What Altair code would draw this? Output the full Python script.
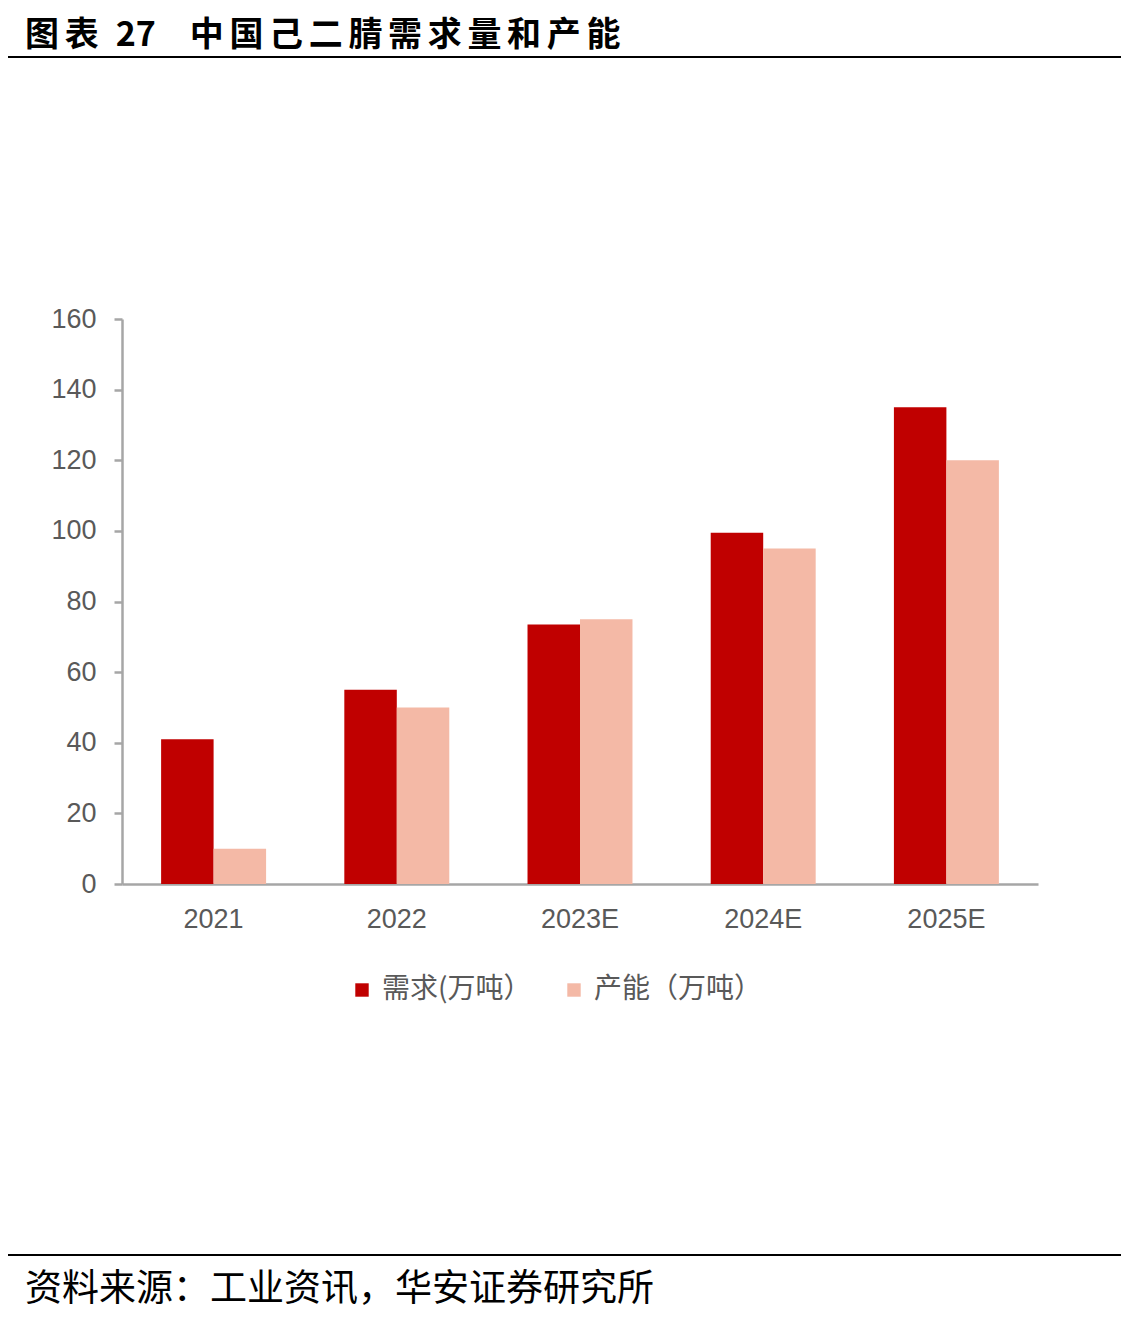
import altair as alt
import pandas as pd

years = ["2021", "2022", "2023E", "2024E", "2025E"]
demand = [41, 55, 73.5, 99.5, 135]
capacity = [10, 50, 75, 95, 120]
series_names = ["需求(万吨）", "产能（万吨）"]
colors = ["#C00000", "#F4B9A6"]
title_text = "图表\u200227\u2002\u2002中国己二腈需求量和产能"
source_text = "资料来源：工业资讯，华安证券研究所"

rows = []
for i, y in enumerate(years):
    rows.append({"year": y, "series": series_names[0], "value": demand[i]})
    rows.append({"year": y, "series": series_names[1], "value": capacity[i]})
df = pd.DataFrame(rows)

W, H = 916, 565
PL, PT = 114, 311
PR = 1113 - PL - W
PB = 1307 - PT - H
FONT = "Liberation Sans"
CJK = "Noto Sans CJK SC"
SP = "\u2006"


def spaced(s):
    out = ""
    for i, ch in enumerate(s):
        out += ch
        nxt = s[i + 1] if i + 1 < len(s) else ""
        if ord(ch) > 0x2E80 and nxt and ord(nxt) > 0x2E80:
            out += SP
    return out


bars = alt.Chart(df).mark_bar().encode(
    x=alt.X("year:N", sort=years, title=None,
            scale=alt.Scale(paddingInner=0.427, paddingOuter=0.2135),
            axis=alt.Axis(labelAngle=0, labelFont=FONT, labelFontSize=27, labelColor="#595959",
                          labelPadding=22, ticks=False, domainColor="#A6A6A6", domainWidth=2.5)),
    xOffset=alt.XOffset("series:N", sort=series_names),
    y=alt.Y("value:Q", title=None,
            scale=alt.Scale(domain=[0, 160]),
            axis=alt.Axis(values=list(range(0, 161, 20)), grid=False, labelFont=FONT, labelFontSize=27,
                          labelColor="#595959", labelPadding=18, tickSize=8, tickColor="#A6A6A6",
                          tickWidth=2.5, domainColor="#A6A6A6", domainWidth=2.5)),
    color=alt.Color("series:N", sort=series_names,
                    scale=alt.Scale(domain=series_names, range=colors),
                    legend=alt.Legend(title=None, orient="none", direction="horizontal",
                                      legendX=226, legendY=657, symbolType="square",
                                      symbolSize=180, symbolStrokeWidth=0, labelFont=CJK,
                                      labelFontSize=28, labelColor="#595959", columnPadding=28,
                                      labelOffset=6, labelLimit=300)),
)

title_df = pd.DataFrame({"t": [spaced(title_text)]})
title = alt.Chart(title_df).mark_text(align="left", baseline="middle", font=CJK, fontSize=34,
                                      fontWeight="bold", color="#000000").encode(
    text="t:N", x=alt.value(-97), y=alt.value(36 - 8 - PT))

foot_df = pd.DataFrame({"t": [source_text]})
foot = alt.Chart(foot_df).mark_text(align="left", baseline="middle", font=CJK, fontSize=37,
                                    color="#000000").encode(
    text="t:N", x=alt.value(-97), y=alt.value(1290 - 8 - PT))

top_rule = alt.Chart(title_df).mark_rule(color="#000000", strokeWidth=2).encode(
    x=alt.value(-PL), x2=alt.value(W + PR), y=alt.value(57 - 8 - PT))
bot_rule = alt.Chart(title_df).mark_rule(color="#000000", strokeWidth=2).encode(
    x=alt.value(-PL), x2=alt.value(W + PR), y=alt.value(1255 - 8 - PT))

chart = alt.layer(bars, title, foot, top_rule, bot_rule).properties(
    width=W, height=H,
    autosize=alt.AutoSizeParams(type="none"),
    padding={"left": PL, "top": PT, "right": PR, "bottom": PB},
    background="#FFFFFF",
).configure_view(stroke=None)

chart.save("out.html", embed_options={"renderer": "svg", "actions": False})
